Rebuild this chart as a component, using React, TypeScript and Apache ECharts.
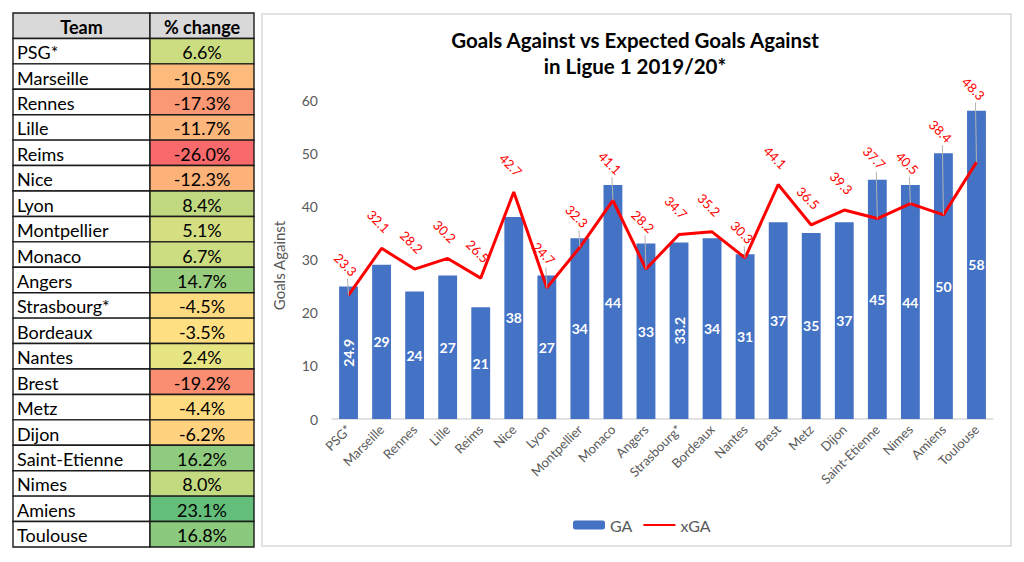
import React, { useEffect, useRef } from "react";
import * as echarts from "echarts";

const TEAMS = ["PSG*", "Marseille", "Rennes", "Lille", "Reims", "Nice", "Lyon", "Montpellier", "Monaco", "Angers", "Strasbourg*", "Bordeaux", "Nantes", "Brest", "Metz", "Dijon", "Saint-Etienne", "Nimes", "Amiens", "Toulouse"];
const PCT_CHANGE = [6.6, -10.5, -17.3, -11.7, -26.0, -12.3, 8.4, 5.1, 6.7, 14.7, -4.5, -3.5, 2.4, -19.2, -4.4, -6.2, 16.2, 8.0, 23.1, 16.8];
const GA = [24.9, 29, 24, 27, 21, 38, 27, 34, 44, 33, 33.2, 34, 31, 37, 35, 37, 45, 44, 50, 58];
const XGA = [23.3, 32.1, 28.2, 30.2, 26.5, 42.7, 24.7, 32.3, 41.1, 28.2, 34.7, 35.2, 30.3, 44.1, 36.5, 39.3, 37.7, 40.5, 38.4, 48.3];
const TABLE_HEADERS = ["Team", "% change"];
const Y_MIN = 0;
const Y_MAX = 60;
const Y_INTERVAL = 10;

const FONT = "Lato, 'Open Sans', sans-serif";

export default function App() {
  const ref = useRef<HTMLDivElement>(null);
  useEffect(() => {
    if (!ref.current) return;
    const chart = echarts.init(ref.current, null, { renderer: "svg" });
    const rows = [TABLE_HEADERS[0], ...TEAMS];

    const cellRender = (col: number) => (params: any, api: any) => {
      const c = api.coord([api.value(0), api.value(1)]);
      const s = api.size([1, 1]);
      const i = params.dataIndex;
      const header = i === 0;
      let fill = "#ffffff";
      let text = "";
      if (header) {
        fill = "#d9d9d9";
        text = TABLE_HEADERS[col];
      } else if (col === 0) {
        text = TEAMS[i - 1];
      } else {
        fill = api.visual("color");
        text = PCT_CHANGE[i - 1].toFixed(1) + "%";
      }
      const left = col === 0 && !header;
      return {
        type: "group",
        children: [
          {
            type: "rect",
            shape: { x: c[0] - s[0] / 2, y: c[1] - s[1] / 2, width: s[0], height: s[1] },
            style: { fill, stroke: "#1a1a1a", lineWidth: 1.4 },
          },
          {
            type: "text",
            x: left ? c[0] - s[0] / 2 + 4 : c[0],
            y: c[1] + 1,
            style: {
              text,
              textAlign: left ? "left" : "center",
              textVerticalAlign: "middle",
              fontFamily: FONT,
              fontSize: 18,
              fontWeight: header ? "bold" : "normal",
              fill: "#000",
            },
          },
        ],
      };
    };

    // xGA data labels: placed above the higher of the point and the bar top
    const xgaLabelRender = (params: any, api: any) => {
      const idx = api.value(0);
      const xga = api.value(1);
      const ga = api.value(2);
      const pt = api.coord([idx, xga]);
      const barTop = api.coord([idx, ga]);
      const barHigher = ga > xga;
      const cy = barHigher ? barTop[1] - 22 : pt[1] - 27;
      const cx = pt[0] - 3;
      const children: any[] = [];
      if (barHigher) {
        children.push({
          type: "line",
          shape: { x1: pt[0] - 1, y1: cy + 14, x2: pt[0], y2: pt[1] },
          style: { stroke: "#b4b4b4", lineWidth: 1 },
        });
      }
      children.push({
        type: "text",
        x: cx,
        y: cy,
        rotation: -Math.PI / 4,
        style: {
          text: xga.toFixed(1),
          textAlign: "center",
          textVerticalAlign: "middle",
          fontFamily: FONT,
          fontSize: 13,
          fill: "#FF0000",
        },
      });
      return { type: "group", children };
    };

    chart.setOption({
      animation: false,
      title: {
        text: "Goals Against vs Expected Goals Against\nin Ligue 1 2019/20*",
        left: 630,
        top: 22,
        textAlign: "center",
        textStyle: { fontFamily: FONT, fontWeight: "bold", fontSize: 20.5, lineHeight: 26, color: "#000" },
      },
      graphic: [
        {
          type: "rect",
          shape: { x: 262, y: 14, width: 749, height: 532 },
          style: { fill: "none", stroke: "#d9d9d9", lineWidth: 1.5 },
          z: -1,
        },
      ],
      legend: {
        data: ["GA", { name: "xGA", itemStyle: { opacity: 0 } }],
        left: 568,
        top: 512,
        itemWidth: 32,
        itemHeight: 9,
        itemGap: 10,
        textStyle: { fontFamily: FONT, fontSize: 16, color: "#595959" },
      },
      visualMap: {
        type: "continuous",
        show: false,
        seriesIndex: 1,
        dimension: 2,
        min: Math.min(...PCT_CHANGE),
        max: Math.max(...PCT_CHANGE),
        inRange: { color: ["#F8696B", "#FFEB84", "#63BE7B"] },
      },
      grid: [
        { left: 13, top: 13, width: 137, height: 534 },
        { left: 150, top: 13, width: 104, height: 534 },
        { left: 332, top: 100, right: 31, height: 319 },
      ],
      xAxis: [
        { type: "category", gridIndex: 0, data: [TABLE_HEADERS[0]], show: false },
        { type: "category", gridIndex: 1, data: [TABLE_HEADERS[1]], show: false },
        {
          type: "category",
          gridIndex: 2,
          data: TEAMS,
          axisLine: { lineStyle: { color: "#d9d9d9", width: 1.5 } },
          axisTick: { show: false },
          axisLabel: { rotate: 45, color: "#595959", fontFamily: FONT, fontSize: 13, margin: 8, interval: 0 },
        },
      ],
      yAxis: [
        { type: "category", gridIndex: 0, data: rows, inverse: true, show: false },
        { type: "category", gridIndex: 1, data: rows, inverse: true, show: false },
        {
          type: "value",
          gridIndex: 2,
          min: Y_MIN,
          max: Y_MAX,
          interval: Y_INTERVAL,
          name: "Goals Against",
          nameLocation: "middle",
          nameGap: 46,
          nameTextStyle: { fontFamily: FONT, fontSize: 15, color: "#595959", padding: [0, 12, 0, 0] },
          axisLine: { show: false },
          axisTick: { show: false },
          splitLine: { show: false },
          axisLabel: { color: "#595959", fontFamily: FONT, fontSize: 14, margin: 14 },
        },
      ],
      series: [
        {
          type: "custom",
          xAxisIndex: 0,
          yAxisIndex: 0,
          renderItem: cellRender(0),
          data: rows.map((r) => [TABLE_HEADERS[0], r]),
          silent: true,
        },
        {
          type: "custom",
          xAxisIndex: 1,
          yAxisIndex: 1,
          renderItem: cellRender(1),
          data: rows.map((r, i) => [TABLE_HEADERS[1], r, i === 0 ? 0 : PCT_CHANGE[i - 1]]),
          silent: true,
        },
        {
          name: "GA",
          type: "bar",
          xAxisIndex: 2,
          yAxisIndex: 2,
          barWidth: "57%",
          itemStyle: { color: "#4472C4" },
          label: {
            show: true,
            position: "inside",
            color: "#fff",
            fontWeight: "bold",
            fontFamily: FONT,
            fontSize: 14,
          },
          data: GA.map((v) => ({ value: v, label: Number.isInteger(v) ? {} : { rotate: 90 } })),
        },
        {
          name: "xGA",
          type: "line",
          xAxisIndex: 2,
          yAxisIndex: 2,
          symbol: "none",
          itemStyle: { color: "#FF0000" },
          lineStyle: { color: "#FF0000", width: 3 },
          data: XGA,
          z: 3,
        },
        {
          type: "custom",
          xAxisIndex: 2,
          yAxisIndex: 2,
          renderItem: xgaLabelRender,
          data: XGA.map((v, i) => [i, v, GA[i]]),
          encode: { x: 0, y: 1 },
          silent: true,
          z: 4,
        },
      ],
    });
    return () => chart.dispose();
  }, []);
  return <div ref={ref} style={{ position: "fixed", left: 0, top: 0, width: 1024, height: 562, background: "#fff" }} />;
}
